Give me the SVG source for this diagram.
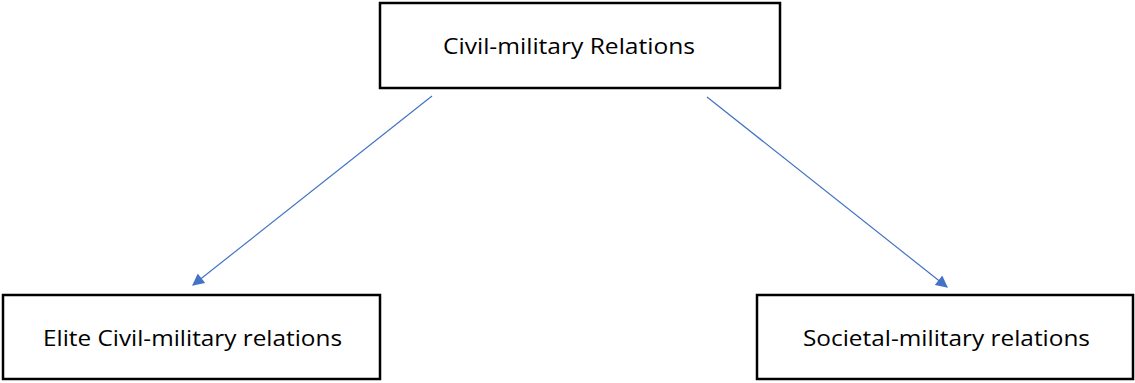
<svg xmlns="http://www.w3.org/2000/svg" width="1135" height="383" viewBox="0 0 1135 383">
<style>
.box{fill:#fff;stroke:#000;stroke-width:2.5}
.lbl{font-family:"Open Sans","Noto Sans",sans-serif;font-size:22.5px;fill:#000}
.conn{stroke:#4472C4;stroke-width:1.2;fill:none}
</style>
<defs>
<marker id="arr" viewBox="0 0 10 10" refX="9" refY="5" markerWidth="13" markerHeight="12" markerUnits="userSpaceOnUse" orient="auto">
<path d="M0,0 L10,5 L0,10 z" fill="#4472C4"/>
</marker>
</defs>
<rect width="1135" height="383" fill="#fff"/>
<g id="connectors">
<line class="conn" x1="432" y1="96" x2="193" y2="285" marker-end="url(#arr)"/>
<line class="conn" x1="707" y1="97" x2="947" y2="287" marker-end="url(#arr)"/>
</g>
<g id="node-top">
<rect class="box" x="380" y="3" width="400" height="85"/>
<text class="lbl" x="443" y="53.5" textLength="252" lengthAdjust="spacingAndGlyphs">Civil-military Relations</text>
</g>
<g id="node-elite">
<rect class="box" x="3" y="295" width="377" height="84"/>
<text class="lbl" x="43" y="346" textLength="299" lengthAdjust="spacingAndGlyphs">Elite Civil-military relations</text>
</g>
<g id="node-societal">
<rect class="box" x="757" y="295" width="376" height="84"/>
<text class="lbl" x="803" y="346" textLength="287" lengthAdjust="spacingAndGlyphs">Societal-military relations</text>
</g>
</svg>
